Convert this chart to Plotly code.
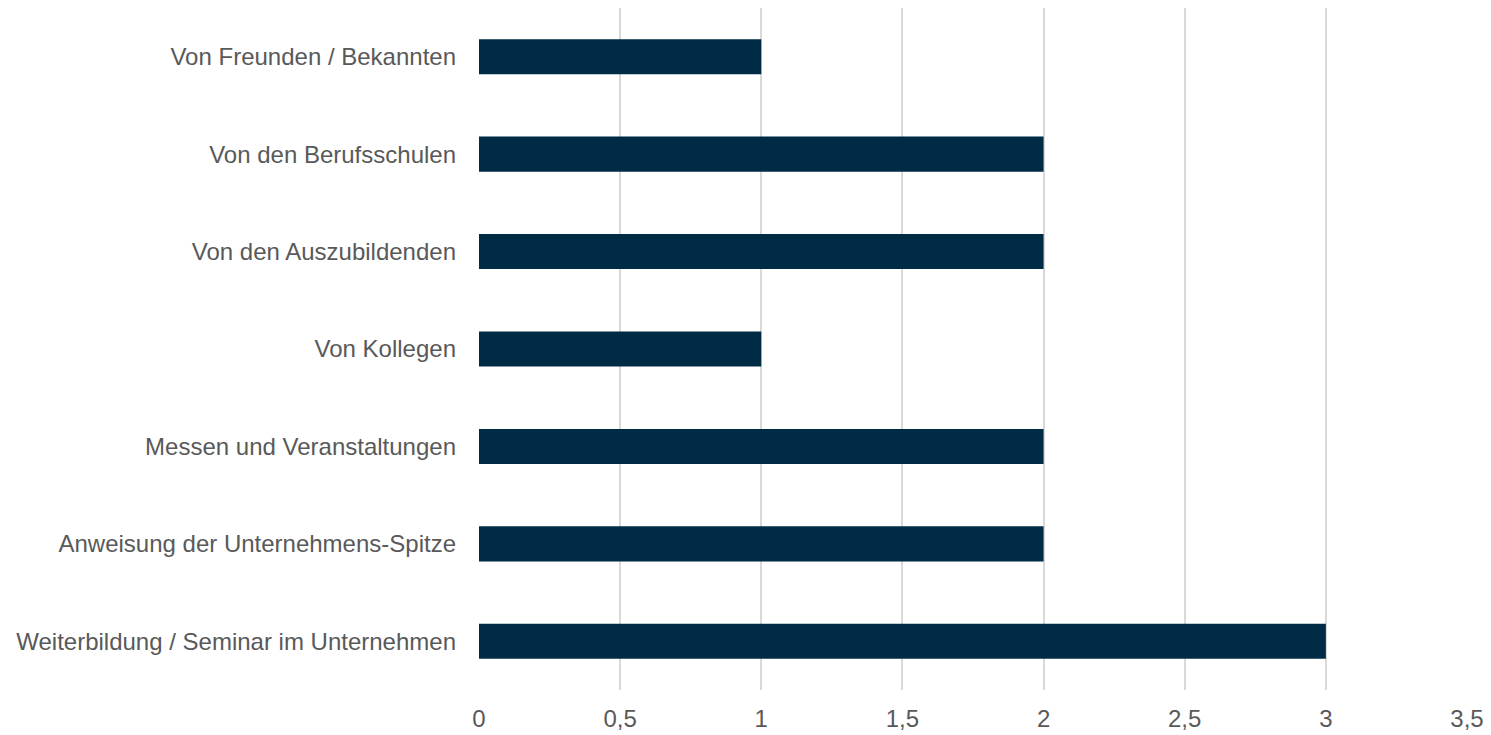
import plotly.graph_objects as go

categories = [
    "Weiterbildung / Seminar im Unternehmen",
    "Anweisung der Unternehmens-Spitze",
    "Messen und Veranstaltungen",
    "Von Kollegen",
    "Von den Auszubildenden",
    "Von den Berufsschulen",
    "Von Freunden / Bekannten",
]
values = [3, 2, 2, 1, 2, 2, 1]
tick_vals = [0, 0.5, 1, 1.5, 2, 2.5, 3, 3.5]
tick_text = ["0", "0,5", "1", "1,5", "2", "2,5", "3", "3,5"]

fig = go.Figure(go.Bar(
    x=values, y=categories, orientation="h",
    marker=dict(color="#002B45", line=dict(width=0)),
    width=0.36,
))

# page body has an 8px default margin, so the figure is sized to fit inside it
fig.update_layout(
    width=1483, height=727,
    margin=dict(l=471, r=24, t=0, b=45),
    paper_bgcolor="white", plot_bgcolor="white",
    font=dict(family="Liberation Sans, Arial, sans-serif", size=24, color="#595959"),
    showlegend=False,
)
fig.update_xaxes(
    range=[0, 3.5], tickvals=tick_vals, ticktext=tick_text,
    showgrid=True, gridcolor="#D9D9D9", gridwidth=2,
    zeroline=False, showline=False, ticks="", ticklabelstandoff=12,
)
fig.update_yaxes(
    categoryorder="array", categoryarray=categories,
    showgrid=False, zeroline=False, showline=False, ticks="",
    ticklabelstandoff=22,
)

fig.write_html("out.html")
